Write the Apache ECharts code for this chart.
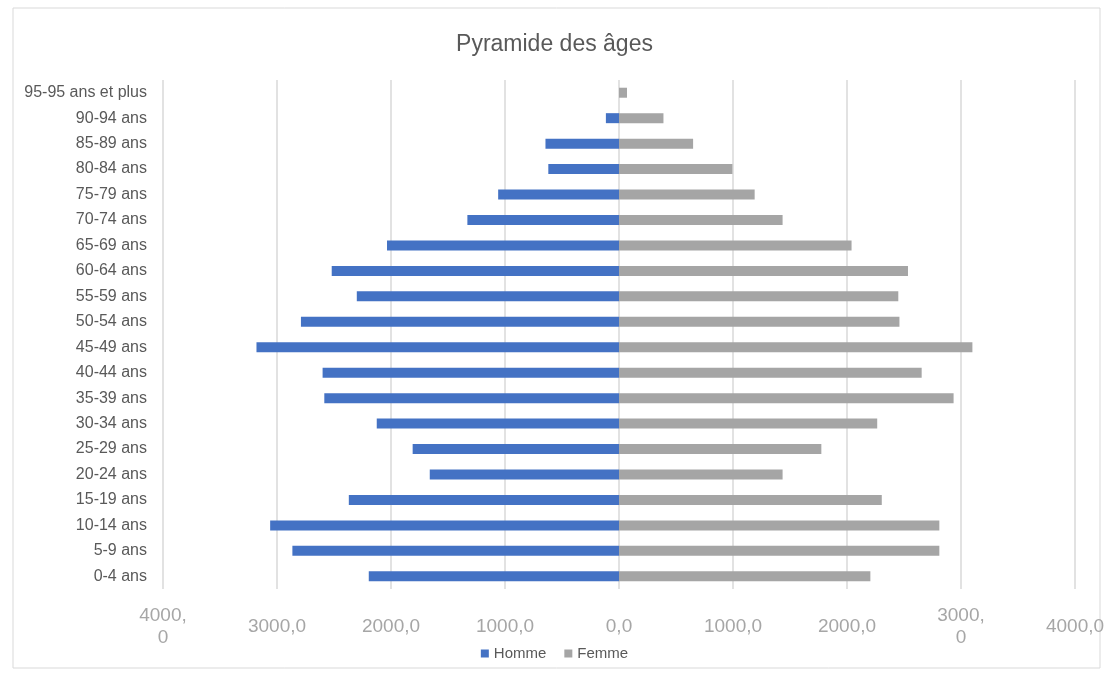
<!DOCTYPE html>
<html>
<head>
<meta charset="utf-8">
<script src="https://cdn.jsdelivr.net/npm/echarts@6/dist/echarts.min.js"></script>
<style>
    html, body { margin: 0; padding: 0; background: #fff; }
    #main { width: 1109px; height: 675px; }
</style>
</head>
<body>
<div id="main"></div>
<script>
    // tranches d'âge, du bas vers le haut
    let categories = ['0-4 ans', '5-9 ans', '10-14 ans', '15-19 ans', '20-24 ans', '25-29 ans',
        '30-34 ans', '35-39 ans', '40-44 ans', '45-49 ans', '50-54 ans', '55-59 ans', '60-64 ans',
        '65-69 ans', '70-74 ans', '75-79 ans', '80-84 ans', '85-89 ans', '90-94 ans', '95-95 ans et plus'];
    let homme = [2195, 2865, 3060, 2370, 1660, 1810, 2125, 2585, 2600, 3180,
        2790, 2300, 2520, 2035, 1330, 1060, 620, 645, 115, 0];
    let femme = [2205, 2810, 2810, 2305, 1435, 1775, 2265, 2935, 2655, 3100,
        2460, 2450, 2535, 2040, 1435, 1190, 995, 650, 390, 70];
    let xTicks = [-4000, -3000, -2000, -1000, 0, 1000, 2000, 3000, 4000];

    let myChart = echarts.init(document.getElementById('main'));

    function fmtTick(v) {
        let s = Math.abs(v).toFixed(1).replace('.', ',');
        // Excel coupe ces deux libellés sur deux lignes
        if (v === xTicks[0] || v === xTicks[7]) {
            s = s.replace(',', ',\n');
        }
        return s;
    }

    let opt = {
        color: ['#4472c4', '#a5a5a5'],
        textStyle: {fontFamily: 'Liberation Sans'},
        title: {
            text: 'Pyramide des âges',
            left: 'center',
            top: 28,
            textStyle: {color: '#595959', fontSize: 23, fontWeight: 'normal'}
        },
        legend: {
            bottom: 9,
            left: 'center',
            itemWidth: 8,
            itemHeight: 8,
            itemGap: 18,
            icon: 'rect',
            textStyle: {color: '#595959', fontSize: 15},
            data: ['Homme', 'Femme']
        },
        grid: {left: 163, right: 34, top: 80, bottom: 86},
        xAxis: {
            type: 'value',
            min: -4000,
            max: 4000,
            interval: 1000,
            axisLine: {show: false},
            axisTick: {show: false},
            splitLine: {lineStyle: {color: '#d9d9d9', width: 1.5}},
            axisLabel: {
                color: '#a6a6a6',
                fontSize: 19,
                margin: 38,
                lineHeight: 22,
                verticalAlign: 'middle',
                formatter: fmtTick
            }
        },
        yAxis: {
            type: 'category',
            data: categories,
            axisLine: {show: false, onZero: false},
            axisTick: {show: false},
            axisLabel: {color: '#595959', fontSize: 16, margin: 16}
        },
        series: [{
            name: 'Homme',
            type: 'bar',
            stack: 'pop',
            barWidth: 10,
            data: homme.map(v => -v)
        }, {
            name: 'Femme',
            type: 'bar',
            stack: 'pop',
            barWidth: 10,
            data: femme
        }],
        graphic: [{
            type: 'rect',
            shape: {x: 13, y: 8, width: 1087, height: 660},
            style: {fill: 'none', stroke: '#d9d9d9', lineWidth: 1},
            silent: true
        }]
    };
    myChart.setOption(opt);
</script>
</body>
</html>
